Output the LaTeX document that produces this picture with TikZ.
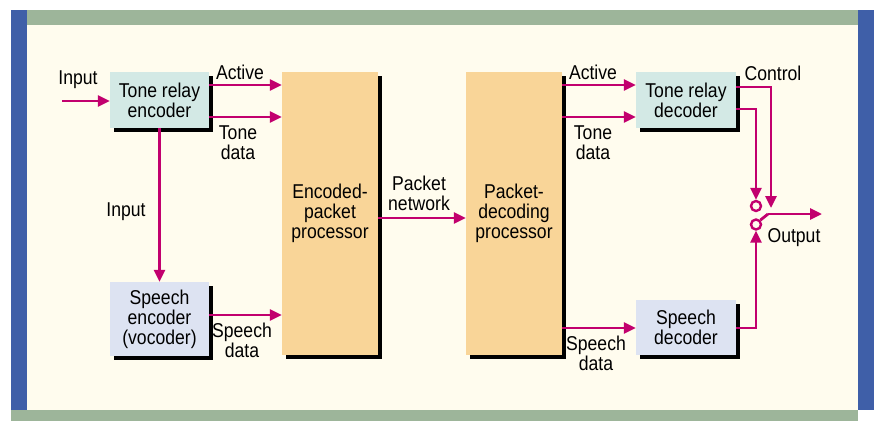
\documentclass[tikz,border=0pt]{standalone}
\usepackage{fontspec}
\setmainfont[FakeStretch=0.88]{Liberation Sans}
\usetikzlibrary{arrows.meta,shadows}
\definecolor{cream}{HTML}{FFFCEE}
\definecolor{frameblue}{HTML}{3F5FA8}
\definecolor{framegreen}{HTML}{9DB59A}
\definecolor{teal}{HTML}{D3E9E5}
\definecolor{lav}{HTML}{DDE3F2}
\definecolor{orng}{HTML}{F9D598}
\definecolor{mag}{HTML}{C2006E}
\tikzset{
  blk/.style={draw=none,rectangle,align=center,inner sep=0pt,
    font=\fontsize{20}{20}\selectfont,
    drop shadow={shadow xshift=3.5pt,shadow yshift=-3.5pt,fill=black,opacity=1}},
  lbl/.style={align=center,inner sep=0pt,font=\fontsize{20}{20}\selectfont},
  arr/.style={draw=mag,line width=2.8pt,-{Triangle[length=12pt,width=11pt]}},
  ln/.style={draw=mag,line width=2.8pt},
  sw/.style={draw=mag,line width=2.4pt,fill=cream}
}
\begin{document}
\begin{tikzpicture}[x=1pt,y=-1pt]
\useasboundingbox (0,0) rectangle (879,421);
\fill[white] (0,0) rectangle (879,421);
\fill[cream] (27,25) rectangle (858,410);
\fill[frameblue] (11,10) rectangle (27,410);
\fill[frameblue] (858,10) rectangle (874,410);
\fill[framegreen] (27,10) rectangle (858,25);
\fill[framegreen] (11,410) rectangle (858,421);
% blocks
\node[blk,fill=teal,minimum width=99pt,minimum height=56pt] (tre) at (159.5,100) {Tone relay\\encoder};
\node[blk,fill=lav,minimum width=99pt,minimum height=74pt] (se) at (159.5,319) {Speech\\encoder\\(vocoder)};
\node[blk,fill=orng,minimum width=96pt,minimum height=283pt] (epp) at (330,213.5) {Encoded-\\packet\\processor};
\node[blk,fill=orng,minimum width=96pt,minimum height=283pt] (pdp) at (514,213.5) {Packet-\\decoding\\processor};
\node[blk,fill=teal,minimum width=100pt,minimum height=56pt] (trd) at (686,100) {Tone relay\\decoder};
\node[blk,fill=lav,minimum width=100pt,minimum height=55pt] (sd) at (686,327.5) {Speech\\decoder};
% switch
\coordinate (in) at (62,101);
\coordinate (out) at (822,214);
\coordinate (lev) at (768,214);
\node[sw,circle,minimum size=10pt,inner sep=0pt] (c1) at (756,206) {};
\node[sw,circle,minimum size=10pt,inner sep=0pt] (c2) at (756,224.5) {};
\coordinate (ctl) at (771,208);
% connectors
\draw[arr] (in) -- (tre.west |- in);
\draw[arr] (tre.east |- 0,85) -- (epp.west |- 0,85);
\draw[arr] (tre.east |- 0,117) -- (epp.west |- 0,117);
\draw[arr] (tre.south) -- (se.north);
\draw[arr] (se.east |- 0,315) -- (epp.west |- 0,315);
\draw[arr] (epp.east |- 0,218) -- (pdp.west |- 0,218);
\draw[arr] (pdp.east |- 0,85) -- (trd.west |- 0,85);
\draw[arr] (pdp.east |- 0,117) -- (trd.west |- 0,117);
\draw[arr] (pdp.east |- 0,328) -- (sd.west |- 0,328);
\draw[arr] (trd.east |- 0,87) -| (ctl);
\draw[arr] (trd.east |- 0,109) -| (c1.north);
\draw[arr] (sd.east |- 0,328) -| (c2.south);
\draw[ln] (c2.45) -- (lev);
\draw[arr] (lev) -- (out);
% labels
\node[lbl] at (78,80) {Input};
\node[lbl] at (240,72) {Active};
\node[lbl] at (238,143) {Tone\\data};
\node[lbl] at (126,212) {Input};
\node[lbl] at (242,340) {Speech\\data};
\node[lbl] at (419,193) {Packet\\network};
\node[lbl] at (593,72) {Active};
\node[lbl] at (593,143) {Tone\\data};
\node[lbl] at (596,353) {Speech\\data};
\node[lbl] at (773,73) {Control};
\node[lbl] at (794,238) {Output};
\end{tikzpicture}
\end{document}
